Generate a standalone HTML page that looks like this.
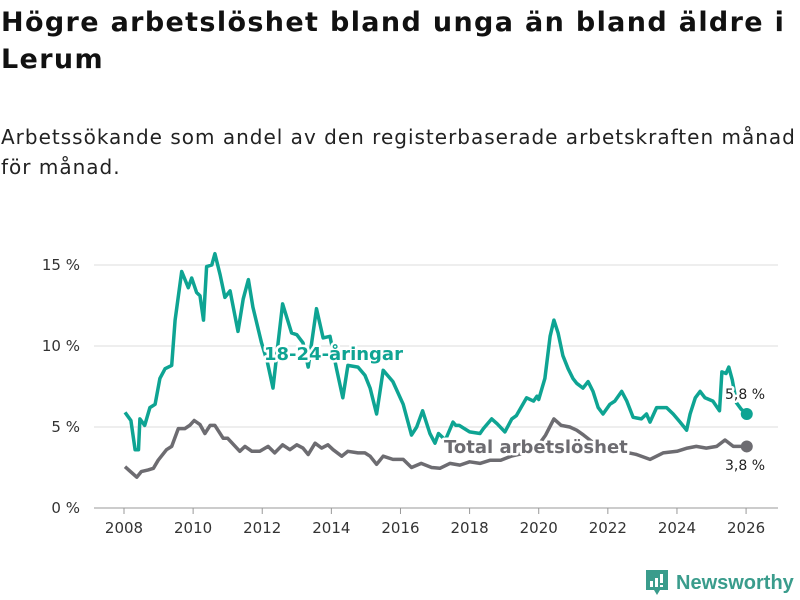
<!DOCTYPE html>
<html><head><meta charset="utf-8"><style>
body{margin:0;background:#fff;font-family:"DejaVu Sans",sans-serif;}
#wrap{position:relative;width:800px;height:600px;overflow:hidden;}
h1{position:absolute;left:1px;top:4px;margin:0;font-size:27px;line-height:37px;font-weight:bold;color:#111;letter-spacing:1.35px;white-space:nowrap;}
.sub{position:absolute;left:1px;top:122px;font-size:20px;line-height:30px;color:#222;letter-spacing:1px;white-space:nowrap;}
</style></head><body>
<div id="wrap">
<h1>Högre arbetslöshet bland unga än bland äldre i<br>Lerum</h1>
<div class="sub">Arbetssökande som andel av den registerbaserade arbetskraften månad<br>för månad.</div>
<svg id="chart" width="800" height="600" style="position:absolute;left:0;top:0"></svg>
</div>
<script>
const yTicks=[0,5,10,15];
const yTickLabels=["0 %","5 %","10 %","15 %"];
const xTicks=[2008,2010,2012,2014,2016,2018,2020,2022,2024,2026];
const youthDates=[2008.03,2008.2,2008.32,2008.42,2008.46,2008.6,2008.75,2008.9,2009.04,2009.19,2009.38,2009.48,2009.67,2009.86,2009.96,2010.1,2010.2,2010.3,2010.39,2010.54,2010.63,2010.78,2010.92,2011.07,2011.3,2011.45,2011.6,2011.73,2011.98,2012.15,2012.31,2012.46,2012.59,2012.85,2013.0,2013.18,2013.33,2013.57,2013.76,2013.96,2014.15,2014.33,2014.48,2014.77,2014.97,2015.12,2015.31,2015.5,2015.78,2016.08,2016.32,2016.47,2016.64,2016.85,2017.0,2017.1,2017.3,2017.52,2017.6,2017.7,2018.0,2018.3,2018.4,2018.64,2018.8,2019.02,2019.22,2019.35,2019.65,2019.85,2019.95,2020.0,2020.18,2020.33,2020.44,2020.56,2020.7,2020.85,2020.99,2021.1,2021.28,2021.43,2021.57,2021.72,2021.86,2022.06,2022.2,2022.4,2022.55,2022.73,2022.97,2023.12,2023.22,2023.41,2023.7,2023.89,2024.09,2024.28,2024.38,2024.53,2024.67,2024.81,2025.04,2025.23,2025.3,2025.42,2025.5,2025.6,2025.72,2025.86,2026.02];
const youthValues=[5.9,5.4,3.6,3.6,5.5,5.1,6.2,6.4,8.0,8.6,8.8,11.6,14.6,13.6,14.2,13.3,13.1,11.6,14.9,15.0,15.7,14.4,13.0,13.4,10.9,12.9,14.1,12.4,10.2,9.0,7.4,10.2,12.6,10.8,10.7,10.2,8.7,12.3,10.5,10.6,8.6,6.8,8.8,8.7,8.2,7.4,5.8,8.5,7.8,6.4,4.5,5.0,6.0,4.6,4.0,4.6,4.2,5.3,5.1,5.1,4.7,4.6,4.9,5.5,5.2,4.7,5.5,5.7,6.8,6.6,6.9,6.7,8.0,10.6,11.6,10.8,9.4,8.6,8.0,7.7,7.4,7.8,7.2,6.2,5.8,6.4,6.6,7.2,6.6,5.6,5.5,5.8,5.3,6.2,6.2,5.8,5.3,4.8,5.8,6.8,7.2,6.8,6.6,6.0,8.4,8.3,8.7,7.9,6.5,6.1,5.8];
const totalDates=[2008.03,2008.37,2008.5,2008.7,2008.85,2008.99,2009.23,2009.38,2009.57,2009.76,2009.9,2010.03,2010.2,2010.34,2010.49,2010.63,2010.87,2011.0,2011.35,2011.5,2011.7,2011.93,2012.17,2012.36,2012.59,2012.8,2013.0,2013.18,2013.33,2013.53,2013.72,2013.9,2014.05,2014.3,2014.48,2014.77,2014.97,2015.12,2015.31,2015.5,2015.78,2016.08,2016.32,2016.6,2016.9,2017.14,2017.43,2017.72,2018.0,2018.3,2018.6,2018.9,2019.2,2019.4,2019.6,2019.8,2020.0,2020.2,2020.44,2020.65,2020.9,2021.1,2021.3,2021.6,2022.0,2022.4,2022.83,2023.22,2023.6,2024.0,2024.3,2024.56,2024.85,2025.15,2025.39,2025.63,2026.02];
const totalValues=[2.55,1.9,2.25,2.35,2.45,2.95,3.6,3.8,4.9,4.9,5.1,5.4,5.15,4.6,5.1,5.1,4.3,4.3,3.5,3.8,3.5,3.5,3.8,3.4,3.9,3.6,3.9,3.7,3.3,4.0,3.7,3.9,3.6,3.2,3.5,3.4,3.4,3.2,2.7,3.2,3.0,3.0,2.5,2.75,2.5,2.45,2.75,2.65,2.85,2.75,2.95,2.95,3.2,3.3,3.4,3.6,3.9,4.5,5.5,5.1,5.0,4.8,4.5,4.0,3.7,3.5,3.3,3.0,3.4,3.5,3.7,3.8,3.7,3.8,4.2,3.8,3.8];
const svg=document.getElementById('chart');
const NS='http://www.w3.org/2000/svg';
const X=y=>124+(y-2008)*34.56;
const Y=v=>508-v*16.2;
function mk(t,a,p){const e=document.createElementNS(NS,t);for(const k in a)e.setAttribute(k,a[k]);(p||svg).appendChild(e);return e;}
yTicks.forEach((v,i)=>{
 const l=mk('line',{x1:94,x2:778,y1:Y(v),y2:Y(v),stroke:v===0?'#999':'#ddd','stroke-width':1});
 
 
 const t=mk('text',{x:80,y:Y(v)+5,'text-anchor':'end','font-size':15,fill:'#333'});
 t.textContent=yTickLabels[i];
 
 
});
xTicks.forEach(y=>{
 const l=mk('line',{x1:X(y),x2:X(y),y1:508,y2:514,stroke:'#999'});
 
 
 const t=mk('text',{x:X(y),y:533,'text-anchor':'middle','font-size':15,fill:'#333'});
 t.textContent=y;
 
 
});
function line(d,v,c,name){
 const p=mk('path',{d:d.map((x,i)=>(i?'L':'M')+X(x).toFixed(1)+','+Y(v[i]).toFixed(1)).join(''),fill:'none',stroke:c,'stroke-width':3.5,'stroke-linejoin':'round'});
 
 
 const n=d.length-1;
 const c2=mk('circle',{cx:X(d[n]),cy:Y(v[n]),r:6,fill:c});
 
 
}
line(totalDates,totalValues,'#6d6c71','total-line');
line(youthDates,youthValues,'#0ea493','youth-line');
function lab(x,y,s,c,name,sz,bold,halo){
 const t=mk('text',{x:x,y:y,'font-size':sz,fill:c,'font-weight':bold?'bold':'normal',stroke:halo?'#fff':'none','stroke-width':halo?5:0,'paint-order':'stroke','stroke-linejoin':'round'});
 t.textContent=s;
 
 
}
lab(264,360,'18-24-åringar','#0ea493','youth-series-label',18,true,true);
lab(444,453,'Total arbetslöshet','#6d6c71','total-series-label',18,true,true);
lab(725,399,'5,8 %','#222','youth-last-value',14,false,true);
lab(725,470,'3,8 %','#222','total-last-value',14,false,true);
</script>
<div style="position:absolute;left:645px;top:570px;height:26px;display:flex;align-items:center;">
<svg width="24" height="28" viewBox="0 0 24 28"><path d="M1 1h22v20h-8l-3 5-3-5H1z" fill="#3a9c8c"/><rect x="5" y="12" width="3" height="6" fill="#fff"/><rect x="10" y="9" width="3" height="9" fill="#fff"/><rect x="15" y="5" width="3" height="9" fill="#fff"/><rect x="15" y="16" width="3" height="2" fill="#fff"/></svg>
<span style="margin-left:7px;font-size:20px;font-weight:bold;color:#3a9c8c;font-family:'Liberation Sans',sans-serif;">Newsworthy</span></div>
</body></html>
